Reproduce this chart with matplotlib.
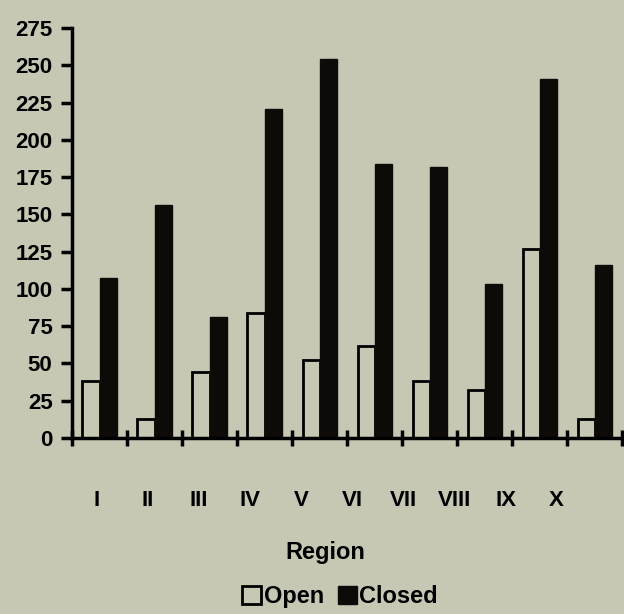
import matplotlib.pyplot as plt
import numpy as np

# Data
regions = ['I', 'II', 'III', 'IV', 'V', 'VI', 'VII', 'VIII', 'IX', 'X']
open_cases = [38, 13, 44, 84, 52, 62, 38, 32, 127, 13]
closed_cases = [107, 156, 81, 221, 254, 184, 182, 103, 241, 116]
y_ticks = list(range(0, 276, 25))

BG = '#c6c8b4'
plt.rcParams['font.family'] = ['Liberation Sans', 'DejaVu Sans']
plt.rcParams['font.weight'] = 'bold'

fig = plt.figure(figsize=(6.24, 6.14), dpi=100, facecolor=BG)
ax = fig.add_axes([0.1154, 0.2866, 0.8816, 0.6678], facecolor=BG)

x = np.arange(len(regions))
w = 0.31
ax.bar(x + 0.5 - w, open_cases, w, align='edge', color=BG, edgecolor='black',
       linewidth=2, label='Open')
ax.bar(x + 0.5, closed_cases, w, align='edge', color='#0d0a08',
       edgecolor='#0d0a08', linewidth=1, label='Closed')

ax.set_xlim(0, len(regions))
ax.set_ylim(0, 275)
ax.set_yticks(y_ticks)
ax.tick_params(axis='y', direction='out', length=8, width=2.5, labelsize=16, pad=6)

# category boundaries as ticks crossing the axis, labels separately
ax.set_xticks(np.arange(len(regions) + 1))
ax.set_xticklabels([])
ax.tick_params(axis='x', direction='inout', length=12, width=2.5)
for i, r in enumerate(regions):
    ax.text(0.44 + i * 0.93, -42, r, ha='center', va='center', fontsize=16,
            fontweight='bold')

for s in ['top', 'right']:
    ax.spines[s].set_visible(False)
for s in ['left', 'bottom']:
    ax.spines[s].set_linewidth(2.5)

ax.text(4.6, -77, 'Region', ha='center', va='center', fontsize=17,
        fontweight='bold')

fig.legend(loc='center', bbox_to_anchor=(0.545, 0.028), ncol=2, frameon=False,
           fontsize=17, handlelength=0.8, handleheight=0.8, handletextpad=0.1,
           columnspacing=0.6)

fig.savefig('out.png', dpi=100, facecolor=BG)
